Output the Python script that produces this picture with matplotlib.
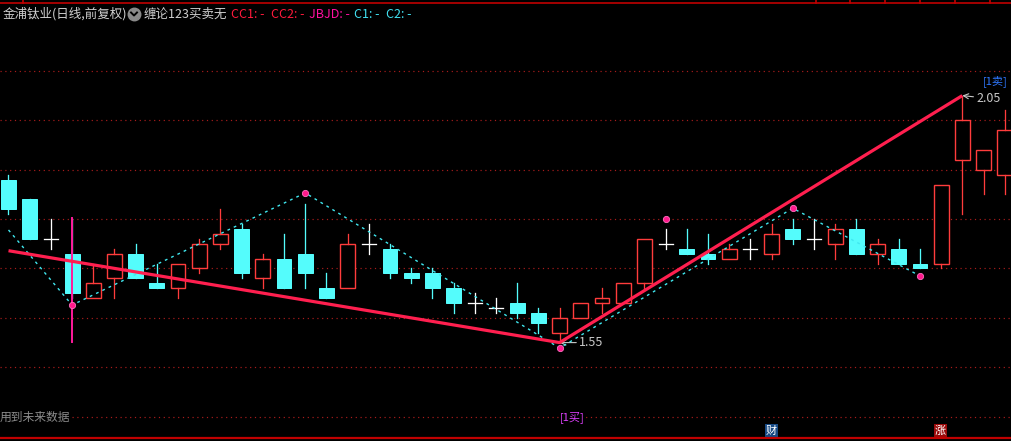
import numpy as np
import matplotlib
matplotlib.use("Agg")
import matplotlib.pyplot as plt
from matplotlib.lines import Line2D
from matplotlib.patches import Rectangle

plt.rcParams['font.family'] = ['Noto Sans CJK SC', 'DejaVu Sans']

# daily candles (open, high, low, close)
opens  = [1.88, 1.84, 1.76, 1.73, 1.64, 1.68, 1.73, 1.67, 1.66, 1.70, 1.75, 1.78, 1.68, 1.72, 1.73, 1.66,
          1.66, 1.75, 1.74, 1.69, 1.69, 1.66, 1.63, 1.62, 1.63, 1.61, 1.57, 1.60, 1.63, 1.63, 1.67, 1.75,
          1.74, 1.73, 1.72, 1.74, 1.73, 1.78, 1.76, 1.75, 1.78, 1.73, 1.74, 1.71, 1.71, 1.92, 1.90, 1.89]
highs  = [1.89, 1.84, 1.80, 1.80, 1.71, 1.74, 1.75, 1.71, 1.71, 1.76, 1.82, 1.79, 1.73, 1.77, 1.83, 1.69,
          1.77, 1.79, 1.75, 1.70, 1.70, 1.67, 1.65, 1.64, 1.67, 1.62, 1.62, 1.63, 1.66, 1.67, 1.76, 1.78,
          1.78, 1.77, 1.75, 1.76, 1.79, 1.80, 1.80, 1.79, 1.80, 1.76, 1.76, 1.74, 1.87, 2.05, 1.94, 2.02]
lows   = [1.81, 1.76, 1.74, 1.64, 1.64, 1.64, 1.68, 1.66, 1.64, 1.69, 1.74, 1.68, 1.66, 1.66, 1.66, 1.64,
          1.66, 1.73, 1.68, 1.67, 1.64, 1.61, 1.61, 1.61, 1.60, 1.57, 1.55, 1.60, 1.61, 1.63, 1.66, 1.74,
          1.73, 1.71, 1.72, 1.72, 1.72, 1.75, 1.74, 1.72, 1.73, 1.71, 1.71, 1.70, 1.70, 1.81, 1.85, 1.85]
closes = [1.82, 1.76, 1.76, 1.65, 1.67, 1.73, 1.68, 1.66, 1.71, 1.75, 1.77, 1.69, 1.72, 1.66, 1.69, 1.64,
          1.75, 1.75, 1.69, 1.68, 1.66, 1.63, 1.63, 1.62, 1.61, 1.59, 1.60, 1.63, 1.64, 1.67, 1.76, 1.75,
          1.73, 1.72, 1.74, 1.74, 1.77, 1.76, 1.76, 1.78, 1.73, 1.75, 1.71, 1.70, 1.87, 2.00, 1.94, 1.98]

# zigzag (cyan dashed) and its pivot dots
zz_x = [0, 3, 14, 26, 37, 43]
zz_y = [1.778, 1.626, 1.853, 1.539, 1.822, 1.685]
dot_x = [3, 14, 26, 31, 37, 43]
dot_y = [1.626, 1.853, 1.539, 1.800, 1.822, 1.685]

# 笔 line (red thick)
bi_x = [0, 26, 45]
bi_y = [1.736, 1.55, 2.05]

# signal vertical line
sig_x = 3
sig_lo, sig_hi = 1.552, 1.802

grid_prices = [1.4, 1.5, 1.6, 1.7, 1.8, 1.9, 2.0, 2.1]

W, H = 1012, 441
fig = plt.figure(figsize=(W / 100, H / 100), dpi=100, facecolor='black')
ax = fig.add_axes([0, 0, 1, 1], facecolor='black')
ax.set_xlim(-0.401, 47.344)
ax.set_ylim(1.3508, 2.2435)
ax.axis('off')

def px(x, y):
    return x / W, 1 - y / H

UP = '#ff3c3c'
DOWN = '#54fcfc'
bw = 0.70
px1 = 0.72  # one pixel in points

for p in grid_prices:
    ax.axhline(p, color='#a81c1c', lw=px1 * 1.2, ls=(0, (1, 3)), zorder=1)

for i in range(len(opens)):
    o, h, l, c = opens[i], highs[i], lows[i], closes[i]
    if c > o:
        ax.add_patch(Rectangle((i - bw / 2, o), bw, c - o, facecolor='black',
                               edgecolor=UP, lw=px1 * 1.4, zorder=3))
        if h > c:
            ax.plot([i, i], [c, h], color=UP, lw=px1 * 1.3, zorder=3)
        if l < o:
            ax.plot([i, i], [l, o], color=UP, lw=px1 * 1.3, zorder=3)
    elif c < o:
        ax.plot([i, i], [l, h], color=DOWN, lw=px1 * 1.3, zorder=2)
        ax.add_patch(Rectangle((i - bw / 2, c), bw, o - c, facecolor=DOWN,
                               edgecolor=DOWN, lw=px1, zorder=3))
    else:
        ax.plot([i, i], [l, h], color='white', lw=px1 * 1.3, zorder=3)
        ax.plot([i - 0.33, i + 0.33], [o, o], color='white', lw=px1 * 1.3, zorder=3)

ax.plot([sig_x, sig_x], [sig_lo, sig_hi], color='#ff1a9c', lw=1.4, zorder=4)

ax.plot(zz_x, zz_y, color='#40e8f0', lw=1.0, ls=(0, (2, 3)), zorder=5)
ax.plot(bi_x, bi_y, color='#ff1f4f', lw=2.3, zorder=6, solid_capstyle='butt')
ax.plot(dot_x, dot_y, 'o', color='#ff1a8c', ms=4.5, mec='#ff70c0', mew=0.6, zorder=7)

# price labels at the turning points
ax.annotate('1.55', xy=(26, 1.55), xytext=(14, 0), textcoords='offset points',
            color='#c8c8c8', fontsize=9, va='center', ha='left',
            arrowprops=dict(arrowstyle='->', color='#c8c8c8', lw=0.8, shrinkA=0, shrinkB=0))
ax.annotate('2.05', xy=(45, 2.05), xytext=(10, -2), textcoords='offset points',
            color='#c8c8c8', fontsize=9, va='center', ha='left',
            arrowprops=dict(arrowstyle='->', color='#c8c8c8', lw=0.8, shrinkA=0, shrinkB=0))

ax.text(26, 1.40, '[1买]', color='#e040ff', fontsize=8, ha='left', va='center',
        bbox=dict(facecolor='black', edgecolor='none', pad=0.5), zorder=8)
fig.text(*px(1008, 81), '[1卖]', color='#2f78ff', fontsize=8, ha='right', va='center')
fig.text(*px(0, 417), '用到未来数据', color='#8c8c8c', fontsize=8.5, ha='left', va='center',
         bbox=dict(facecolor='black', edgecolor='none', pad=0.5), zorder=8)

# header
fig.text(*px(3, 14), '金浦钛业(日线,前复权)', color='#d0d0d0', fontsize=9, ha='left', va='center')
fig.add_artist(Line2D([134 / W], [1 - 14 / H], marker='o', ms=9, color='#8a8a8a',
                      transform=fig.transFigure))
cx, cy = px(131, 12.5)
mx, my = px(134, 15.5)
ex, ey = px(137, 12.5)
fig.add_artist(Line2D([cx, mx, ex], [cy, my, ey], color='black', lw=1.4, transform=fig.transFigure))
fig.text(*px(144, 14), '缠论123买卖无', color='#d0d0d0', fontsize=9, ha='left', va='center')
legend_items = [('CC1: -', 231, '#ff1a3c'), ('CC2: -', 271, '#ff1a3c'), ('JBJD: -', 309, '#ff10a0'),
                ('C1: -', 354, '#40e0f0'), ('C2: -', 386, '#40e0f0')]
for txt, x, col in legend_items:
    fig.text(*px(x, 14), txt, color=col, fontsize=9, ha='left', va='center')

# top border with ticks
fig.add_artist(Line2D([0, 1], [1 - 3 / H] * 2, color='#c00000', lw=1.2, transform=fig.transFigure))
for tx in [23, 816, 850, 885, 920, 955, 990]:
    fig.add_artist(Line2D([tx / W] * 2, [1, 1 - 3 / H], color='#c00000', lw=1.2,
                          transform=fig.transFigure))

# bottom border and badges
fig.add_artist(Line2D([0, 1], [1 - 438 / H] * 2, color='#c00000', lw=1.6, transform=fig.transFigure))
for label, x0, bg in [('财', 765, '#174a84'), ('涨', 934, '#9a0a0a')]:
    rx, ry = px(x0, 437)
    fig.add_artist(Rectangle((rx, ry), 13 / W, 13 / H, facecolor=bg, edgecolor='none',
                             transform=fig.transFigure))
    fig.text(*px(x0 + 6.5, 430.5), label, color='white', fontsize=8, ha='center', va='center')

fig.savefig('out.png', dpi=100, facecolor='black')
